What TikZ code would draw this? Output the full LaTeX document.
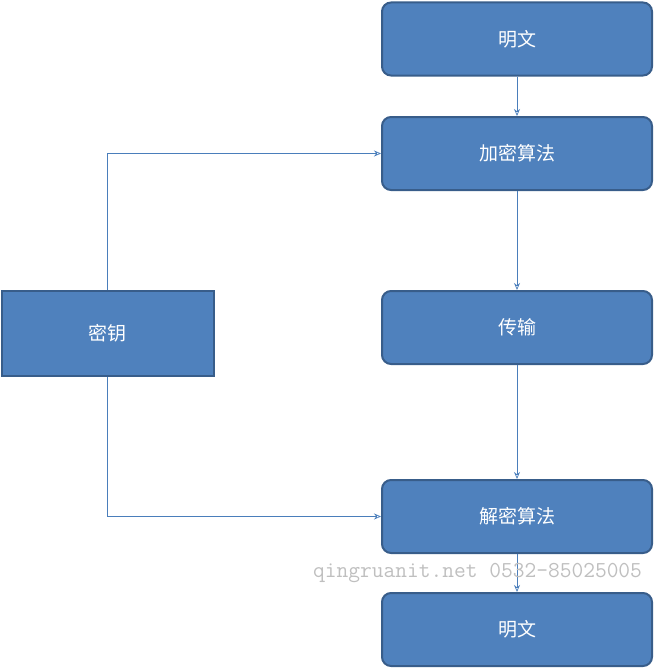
\documentclass[tikz,border=0pt]{standalone}
\usepackage{fontspec}
\newfontfamily\cjk{Noto Sans CJK SC}
\usetikzlibrary{arrows.meta}
\definecolor{boxfill}{HTML}{4F81BD}
\definecolor{boxline}{HTML}{385D8A}
\definecolor{arr}{HTML}{4A7EBB}
\begin{document}
\begin{tikzpicture}[x=1pt,y=-1pt,
  rbox/.style={draw=boxline,line width=2pt,fill=boxfill,rounded corners=9pt,minimum width=270pt,minimum height=73pt,text=white,font=\cjk\fontsize{19}{19}\selectfont},
  sbox/.style={rbox,rounded corners=0pt,minimum width=212pt,minimum height=85pt},
  conn/.style={draw=arr,line width=0.7pt,-{Stealth[length=7pt,width=6pt,open]}}]
\useasboundingbox (0,0) rectangle (655,669);
\node[rbox] (m1) at (517,39) {明文};
\node[rbox] (enc) at (517,153.5) {加密算法};
\node[rbox] (tr) at (517,327.5) {传输};
\node[rbox] (dec) at (517,516.5) {解密算法};
\node[rbox] (m2) at (517,629.5) {明文};
\node[sbox] (key) at (107.5,333) {密钥};
\draw[conn] (m1) -- (enc);
\draw[conn] (enc) -- (tr);
\draw[conn] (tr) -- (dec);
\draw[conn] (dec) -- (m2);
\draw[conn] (key.north) |- (enc.west);
\draw[conn] (key.south) |- (dec.west);
\node[text=black!25,font=\ttfamily\fontsize{22.8}{22.8}\selectfont,anchor=west,inner sep=0pt] (wm) at (313,573) {qingruanit.net 0532-85025005};
\end{tikzpicture}
\end{document}
